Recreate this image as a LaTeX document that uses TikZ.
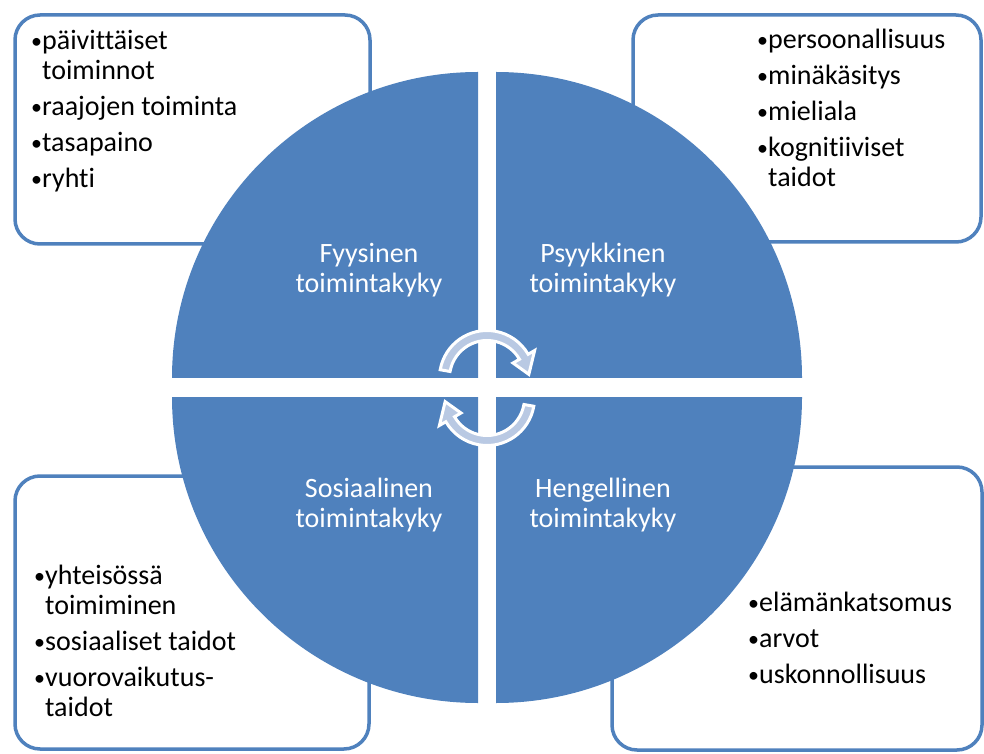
\documentclass[tikz,border=0pt]{standalone}
\usepackage{fontspec}
\setmainfont{Carlito}[Ligatures=NoCommon]
\definecolor{obl}{RGB}{79,129,189}
\definecolor{arrl}{RGB}{185,201,227}
\newcommand\myBul{\makebox[12pt][l]{\hspace*{1pt}\raisebox{1pt}{\fontsize{22}{22}\selectfont •}}}
\newcommand\myInd{\hspace*{12pt}}
\begin{document}
\begin{tikzpicture}[x=1pt,y=1pt,
  box/.style={draw=obl, line width=3.5pt, rounded corners=25pt, fill=white},
  quarter/.style={fill=obl},
  lbl/.style={inner sep=0pt, anchor=base, text=white},
  lst/.style={inner sep=0pt, anchor=base west, text=black},
  carrow/.style={fill=arrl, draw=white, line width=3pt, line join=miter}
]
\useasboundingbox (0,0) rectangle (984,753);
% boxes
\draw[box] (15,738) rectangle (370,509);
\draw[box] (633,738) rectangle (981,511);
\draw[box] (15,277) rectangle (369,4);
\draw[box] (612,286) rectangle (982,3);
% quarters
\fill[quarter] (478,375) -- ++(-306,0) arc[start angle=180, end angle=90, radius=306] -- cycle;
\fill[quarter] (496,375) -- ++(0,306) arc[start angle=90, end angle=0, radius=306] -- cycle;
\fill[quarter] (478,356) -- ++(-306,0) arc[start angle=180, end angle=270, radius=306] -- cycle;
\fill[quarter] (496,356) -- ++(306,0) arc[start angle=0, end angle=-90, radius=306] -- cycle;
% labels
\node[lbl] (fy) at (369,490) {\parbox[t]{220pt}{\centering\fontsize{28}{30}\selectfont Fyysinen\\toimintakyky}};
\node[lbl] (ps) at (603,490) {\parbox[t]{220pt}{\centering\fontsize{28}{30}\selectfont Psyykkinen\\toimintakyky}};
\node[lbl] (so) at (369,256) {\parbox[t]{220pt}{\centering\fontsize{28}{30}\selectfont Sosiaalinen\\toimintakyky}};
\node[lbl] (he) at (603,256) {\parbox[t]{220pt}{\centering\fontsize{28}{30}\selectfont Hengellinen\\toimintakyky}};
% lists
\node[lst] (ltl) at (30,703) {\parbox[t]{330pt}{\fontsize{28}{30}\selectfont\raggedright
  \myBul päivittäiset\\ \myInd toiminnot\\[6pt]
  \myBul raajojen toiminta\\[6pt]
  \myBul tasapaino\\[6pt]
  \myBul ryhti}};
\node[lst] (ltr) at (756,704) {\parbox[t]{225pt}{\fontsize{28}{30}\selectfont\raggedright
  \myBul persoonallisuus\\[6pt]
  \myBul minäkäsitys\\[6pt]
  \myBul mieliala\\[6pt]
  \myBul kognitiiviset\\ \myInd taidot}};
\node[lst] (lbl) at (33,169) {\parbox[t]{330pt}{\fontsize{28}{30}\selectfont\raggedright
  \myBul yhteisössä\\ \myInd toimiminen\\[6pt]
  \myBul sosiaaliset taidot\\[6pt]
  \myBul vuorovaikutus-\\ \myInd taidot}};
\node[lst] (lbr) at (747,142) {\parbox[t]{235pt}{\fontsize{28}{30}\selectfont\raggedright
  \myBul elämänkatsomus\\[6pt]
  \myBul arvot\\[6pt]
  \myBul uskonnollisuus}};
% circular arrows
\begin{scope}[shift={(487,375)}]
\path[carrow] (170:47.5) arc[start angle=170, end angle=30, radius=47.5] -- (30:55) -- (5:42) -- (30:30) -- (30:37.5) arc[start angle=30, end angle=170, radius=37.5] -- cycle;
\end{scope}
\begin{scope}[shift={(487,355)}]
\path[carrow] (350:47.5) arc[start angle=350, end angle=210, radius=47.5] -- (210:55) -- (185:42) -- (210:30) -- (210:37.5) arc[start angle=210, end angle=350, radius=37.5] -- cycle;
\end{scope}
\end{tikzpicture}
\end{document}
